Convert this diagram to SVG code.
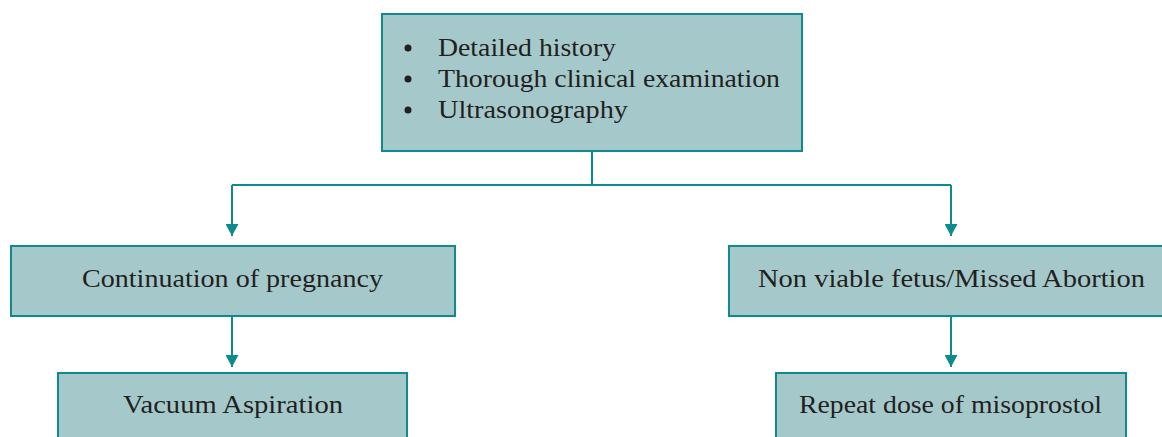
<svg xmlns="http://www.w3.org/2000/svg" width="1162" height="437" viewBox="0 0 1162 437">
<defs>
<style>
.box{fill:#a5c9cb;stroke:#0f8b8d;stroke-width:2}
.t{font-family:"Liberation Serif","Times New Roman",serif;font-size:26px;fill:#231f20}
.c{fill:none;stroke:#0f8b8d;stroke-width:2}
</style>
<marker id="ah" viewBox="0 0 12 13" refX="12" refY="6.5" markerWidth="12" markerHeight="13" markerUnits="userSpaceOnUse" orient="auto">
<path d="M0,0 L12,6.5 L0,13 Z" fill="#0f8b8d"/>
</marker>
</defs>
<rect width="1162" height="437" fill="#ffffff"/>
<g id="connectors">
<path class="c" d="M592,152 V185"/>
<path class="c" d="M232,185 H951"/>
<path class="c" d="M232,185 V236" marker-end="url(#ah)"/>
<path class="c" d="M951,185 V236" marker-end="url(#ah)"/>
<path class="c" d="M232,316 V367" marker-end="url(#ah)"/>
<path class="c" d="M951,316 V367" marker-end="url(#ah)"/>
</g>
<g id="assessment">
<rect class="box" x="382" y="14" width="420" height="137"/>
<circle cx="408" cy="48" r="3.5" fill="#231f20"/>
<circle cx="408" cy="79" r="3.5" fill="#231f20"/>
<circle cx="408" cy="110" r="3.5" fill="#231f20"/>
<text class="t" x="438" y="56" textLength="178" lengthAdjust="spacingAndGlyphs">Detailed history</text>
<text class="t" x="438" y="87" textLength="342" lengthAdjust="spacingAndGlyphs">Thorough clinical examination</text>
<text class="t" x="438" y="118" textLength="190" lengthAdjust="spacingAndGlyphs">Ultrasonography</text>
</g>
<g id="continuation">
<rect class="box" x="11" y="246" width="444" height="70"/>
<text class="t" x="82" y="287" textLength="301" lengthAdjust="spacingAndGlyphs">Continuation of pregnancy</text>
</g>
<g id="vacuum">
<rect class="box" x="58" y="373" width="349" height="70"/>
<text class="t" x="123" y="413" textLength="220" lengthAdjust="spacingAndGlyphs">Vacuum Aspiration</text>
</g>
<g id="nonviable">
<rect class="box" x="729" y="246" width="440" height="70"/>
<text class="t" x="758" y="287" textLength="387" lengthAdjust="spacingAndGlyphs">Non viable fetus/Missed Abortion</text>
</g>
<g id="misoprostol">
<rect class="box" x="776" y="373" width="350" height="70"/>
<text class="t" x="799" y="413" textLength="303" lengthAdjust="spacingAndGlyphs">Repeat dose of misoprostol</text>
</g>
</svg>
